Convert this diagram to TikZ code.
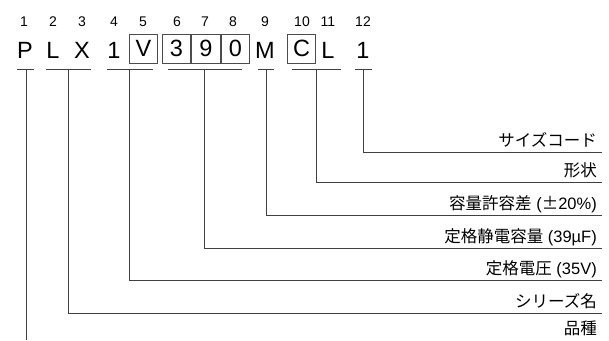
\documentclass[tikz,border=0pt]{standalone}
\usepackage{fontspec}
\setmainfont{Liberation Sans}
\newfontfamily\jp{Noto Sans CJK JP}
\usetikzlibrary{positioning,calc}

\tikzset{
  codechar/.style={inner sep=0pt, font=\fontsize{23.5}{25}\selectfont},
  codebox/.style={codechar, draw=black!70, line width=0.8pt, minimum width=28.7pt, minimum height=29pt},
  idx/.style={inner sep=0pt, font=\fontsize{14}{16}\selectfont},
  lbl/.style={inner sep=0pt, anchor=base east, font=\fontsize{16.5}{18}\selectfont},
  lead/.style={draw=black!75, line width=0.8pt}
}

\begin{document}
\begin{tikzpicture}[x=1pt, y=-1pt]
  \useasboundingbox (0,0) rectangle (609,340);
  % ---------------------------------------------------------------- code letters
  \foreach \n/\x/\ch in {1/25/P, 2/53/L, 3/82/X, 4/114/1, 9/265/M, 11/328/L, 12/363/1} {
    \node[codechar] (c\n) at (\x,50) {\ch};
  }
  \node[codebox] (c5) at (143.5,48.5) {V};
  \node[codebox] (c6) at (176.5,48.5) {3};
  \node[codebox, right=0pt of c6] (c7) {9};
  \node[codebox, right=0pt of c7] (c8) {0};
  \node[codebox] (c10) at (301.5,48.5) {C};
  % position numbers
  \foreach \n/\x in {1/24, 2/53, 3/82, 4/114, 5/143, 6/177, 7/205, 8/233, 9/265, 10/302, 11/328, 12/363} {
    \node[idx] (n\n) at (\x,22) {\n};
  }
  % ---------------------------------------------------------------- underlines
  \foreach \g/\a/\b/\m in {p/17/34/26, s/46/91/68, v/107/153/129, c/168/242/204, t/258/274/266, f/292/341/316, z/355/372/363} {
    \draw[lead] (\a,69) -- (\b,69);
    \coordinate (u\g) at (\m,69);
  }
  % ---------------------------------------------------------------- leaders and labels
  \foreach \g/\y/\lab in {z/152/{{\jp サイズコード}},
                          f/182/{{\jp 形状}},
                          t/215/{{\jp 容量許容差} ({\jp ±}20\%)},
                          c/248/{{\jp 定格静電容量} (39µF)},
                          v/280/{{\jp 定格電圧} (35V)},
                          s/313/{{\jp シリーズ名}}} {
    \coordinate (e\g) at (602,\y);
    \draw[lead] (u\g) |- (e\g);
    \node[lbl] (l\g) at ($(e\g)+(-5,-6)$) {\lab};
  }
  \coordinate (ep) at (26,340);
  \draw[lead] (up) -- (ep);
  \node[lbl] (lp) at (597,334) {\jp 品種};
\end{tikzpicture}
\end{document}
